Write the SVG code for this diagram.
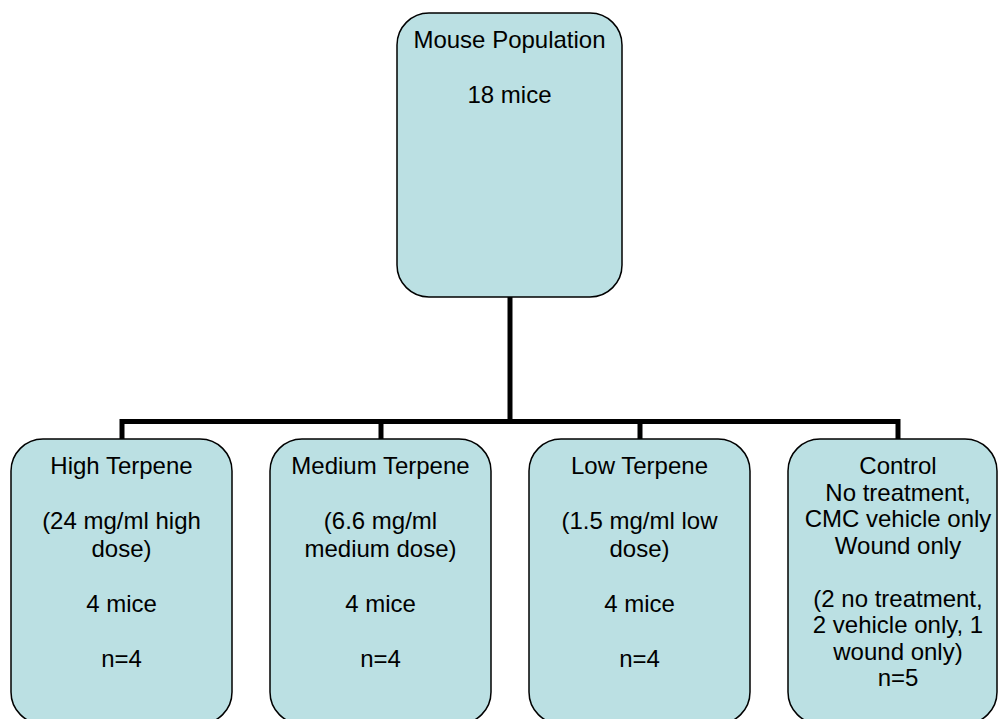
<svg xmlns="http://www.w3.org/2000/svg" width="998" height="719" viewBox="0 0 998 719">
<style>
.box{fill:#bbe0e3;stroke:#000;stroke-width:1.5}
.t{font-family:"Liberation Sans",Arial,sans-serif;font-size:24px;fill:#000;text-anchor:middle}
.c{fill:none;stroke:#000;stroke-width:5;stroke-linejoin:miter}
</style>
<rect width="998" height="719" fill="#fff"/>
<g id="connectors">
<path class="c" d="M510 297 V421.5"/>
<path class="c" d="M122 439 V421.5 H898 V439"/>
<path class="c" d="M381 421.5 V439"/>
<path class="c" d="M640 421.5 V439"/>
</g>
<g id="mouse-population">
<rect class="box" x="397" y="13" width="225" height="284" rx="32"/>
<text class="t" x="509.5" y="48">Mouse Population</text>
<text class="t" x="509.5" y="103">18 mice</text>
</g>
<g id="high-terpene">
<rect class="box" x="11" y="439" width="221" height="285" rx="32"/>
<text class="t" x="121.5" y="474">High Terpene</text>
<text class="t" x="121.5" y="529">(24 mg/ml high</text>
<text class="t" x="121.5" y="556.5">dose)</text>
<text class="t" x="121.5" y="611.5">4 mice</text>
<text class="t" x="121.5" y="666.5">n=4</text>
</g>
<g id="medium-terpene">
<rect class="box" x="270" y="439" width="221" height="285" rx="32"/>
<text class="t" x="380.5" y="474">Medium Terpene</text>
<text class="t" x="380.5" y="529">(6.6 mg/ml</text>
<text class="t" x="380.5" y="556.5">medium dose)</text>
<text class="t" x="380.5" y="611.5">4 mice</text>
<text class="t" x="380.5" y="666.5">n=4</text>
</g>
<g id="low-terpene">
<rect class="box" x="529" y="439" width="221" height="285" rx="32"/>
<text class="t" x="639.5" y="474">Low Terpene</text>
<text class="t" x="639.5" y="529">(1.5 mg/ml low</text>
<text class="t" x="639.5" y="556.5">dose)</text>
<text class="t" x="639.5" y="611.5">4 mice</text>
<text class="t" x="639.5" y="666.5">n=4</text>
</g>
<g id="control">
<rect class="box" x="788" y="439" width="209" height="285" rx="32"/>
<text class="t" x="898" y="474">Control</text>
<text class="t" x="898" y="500.5">No treatment,</text>
<text class="t" x="898" y="527">CMC vehicle only</text>
<text class="t" x="898" y="553.5">Wound only</text>
<text class="t" x="898" y="606.5">(2 no treatment,</text>
<text class="t" x="898" y="633">2 vehicle only, 1</text>
<text class="t" x="898" y="659.5">wound only)</text>
<text class="t" x="898" y="686">n=5</text>
</g>
</svg>
